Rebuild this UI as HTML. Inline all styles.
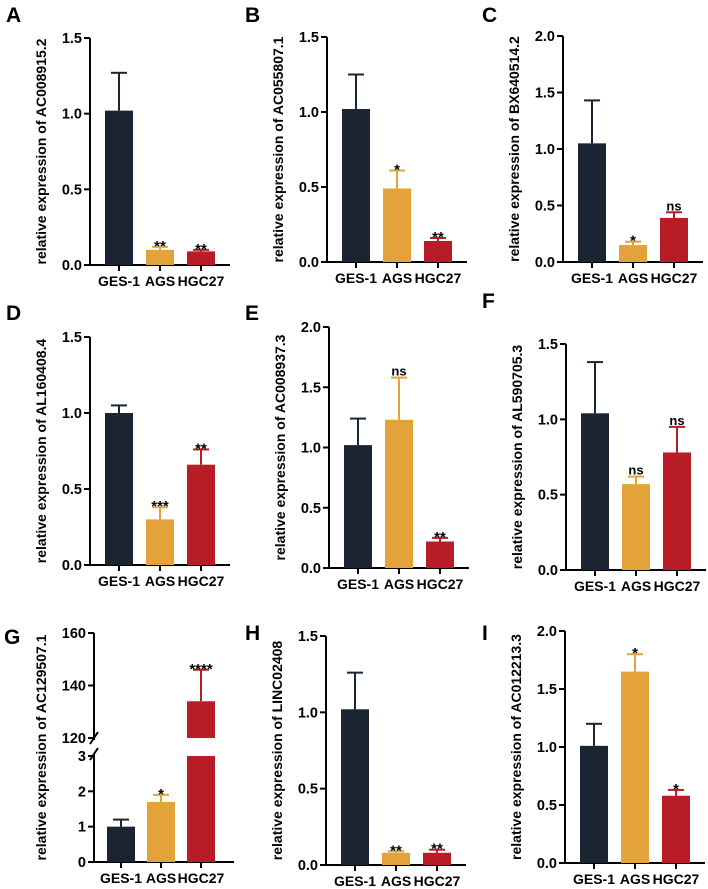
<!DOCTYPE html>
<html><head><meta charset="utf-8">
<style>
html,body{margin:0;padding:0;background:#fff;}
svg{display:block;font-family:"Liberation Sans",Arial,sans-serif;font-weight:bold;}
</style></head>
<body>
<svg id="fig" width="708" height="889" viewBox="0 0 708 889"></svg>
<script>
const categories = ["GES-1","AGS","HGC27"];
const colors = ["#1b2433","#e3a23a","#b81d27"];
const valuesA = [1.02,0.10,0.09]; const errorsA=[0.25,0.02,0.01]; const starsA=["","**","**"];
const valuesB = [1.02,0.49,0.14]; const errorsB=[0.23,0.12,0.02]; const starsB=["","*","**"];
const valuesC = [1.05,0.15,0.39]; const errorsC=[0.38,0.03,0.05]; const starsC=["","*","ns"];
const valuesD = [1.00,0.30,0.66]; const errorsD=[0.05,0.08,0.10]; const starsD=["","***","**"];
const valuesE = [1.02,1.23,0.22]; const errorsE=[0.22,0.35,0.03]; const starsE=["","ns","**"];
const valuesF = [1.04,0.57,0.78]; const errorsF=[0.34,0.05,0.17]; const starsF=["","ns","ns"];
const valuesG = [1.00,1.70,134]; const errorsG=[0.20,0.20,12]; const starsG=["","*","****"];
const valuesH = [1.02,0.08,0.08]; const errorsH=[0.24,0.01,0.02]; const starsH=["","**","**"];
const valuesI = [1.01,1.65,0.58]; const errorsI=[0.19,0.15,0.05]; const starsI=["","*","*"];
const ticks15 = [0,0.5,1.0,1.5];
const ticks20 = [0,0.5,1.0,1.5,2.0];
const ticksGLow = [0,1,2,3];
const ticksGHigh = [120,140,160];

const NS="http://www.w3.org/2000/svg";
const svg=document.getElementById('fig');
function el(tag,attrs,parent){const e=document.createElementNS(NS,tag);for(const k in attrs)e.setAttribute(k,attrs[k]);(parent||svg).appendChild(e);return e;}
function txt(s,attrs,parent){const e=el('text',attrs,parent);e.textContent=s;return e;}

function panel(p){
  const g=el('g',{});
  
  
  const lt=txt(p.letter,{x:p.lx,y:p.ly,'font-size':21,fill:'#000'},g);
  
  
  const ax=p.ax, x1=ax+140;
  const yS=v=>p.ybot-(v/p.max)*(p.ybot-p.ytop);
  el('line',{x1:ax,y1:p.ytop,x2:ax,y2:p.ybot+1,stroke:'#000','stroke-width':2},g);
  el('line',{x1:ax-1,y1:p.ybot,x2:x1,y2:p.ybot,stroke:'#000','stroke-width':2},g);
  p.ticks.forEach(t=>{
    const y=yS(t);
    el('line',{x1:ax-6,y1:y,x2:ax,y2:y,stroke:'#000','stroke-width':2},g);
    const tl=txt(t.toFixed(1),{x:ax-8,y:y+5,'font-size':14.5,'text-anchor':'end'},g);
    
    
  });
  const yl=txt(p.ylabel,{x:0,y:0,'font-size':14,'text-anchor':'middle',transform:`translate(${ax-44},${(p.ytop+p.ybot)/2}) rotate(-90)`},g);
  
  
  categories.forEach((c,i)=>{
    const cx=ax+29+i*41;
    const v=p.values[i], e=p.errors[i];
    const top=yS(v), et=yS(v+e);
    el('line',{x1:cx,y1:et,x2:cx,y2:top,stroke:colors[i],'stroke-width':2},g);
    el('line',{x1:cx-8,y1:et,x2:cx+8,y2:et,stroke:colors[i],'stroke-width':2},g);
    const b=el('rect',{x:cx-14,y:top,width:28,height:p.ybot-top,fill:colors[i]},g);
    
    
    if(p.stars[i]){const s=txt(p.stars[i],{x:cx,y:et-2+(p.stars[i]=='ns'?0:6),'font-size':p.stars[i]=='ns'?13:15,'text-anchor':'middle'},g);
      
      }
    el('line',{x1:cx,y1:p.ybot,x2:cx,y2:p.ybot+6,stroke:'#000','stroke-width':2},g);
    const xl=txt(c,{x:cx,y:p.ybot+21,'font-size':14,'text-anchor':'middle'},g);
    
    
  });
}
panel({letter:'A',lx:6,ly:22,ax:90,ytop:38,ybot:265,max:1.5,ticks:ticks15,values:valuesA,errors:errorsA,stars:starsA,ylabel:'relative expression of AC008915.2'});
panel({letter:'B',lx:245,ly:22,ax:327,ytop:37,ybot:262,max:1.5,ticks:ticks15,values:valuesB,errors:errorsB,stars:starsB,ylabel:'relative expression of AC055807.1'});
panel({letter:'C',lx:482,ly:22,ax:563,ytop:36,ybot:262,max:2.0,ticks:ticks20,values:valuesC,errors:errorsC,stars:starsC,ylabel:'relative expression of BX640514.2'});
panel({letter:'D',lx:6,ly:320,ax:90,ytop:337,ybot:565,max:1.5,ticks:ticks15,values:valuesD,errors:errorsD,stars:starsD,ylabel:'relative expression of AL160408.4'});
panel({letter:'E',lx:245,ly:320,ax:329,ytop:327,ybot:568,max:2.0,ticks:ticks20,values:valuesE,errors:errorsE,stars:starsE,ylabel:'relative expression of  AC008937.3'});
panel({letter:'F',lx:482,ly:308,ax:566,ytop:344,ybot:570,max:1.5,ticks:ticks15,values:valuesF,errors:errorsF,stars:starsF,ylabel:'relative expression of  AL590705.3'});
panel({letter:'H',lx:245,ly:640,ax:326,ytop:636,ybot:865,max:1.5,ticks:ticks15,values:valuesH,errors:errorsH,stars:starsH,ylabel:'relative expression of  LINC02408'});
panel({letter:'I',lx:482,ly:640,ax:565,ytop:631,ybot:863,max:2.0,ticks:ticks20,values:valuesI,errors:errorsI,stars:starsI,ylabel:'relative expression of  AC012213.3'});

(function(){
  const g=el('g',{});
  
  
  const lt=txt('G',{x:4,y:644,'font-size':21},g);
  
  
  const ax=94, ybot=862, lowTop=756, highBot=738, highTop=633;
  const yLow=v=>ybot-(v/3)*(ybot-lowTop);
  const yHigh=v=>highBot-((v-120)/40)*(highBot-highTop);
  const yS=v=>v<=3?yLow(v):(v>=120?yHigh(v):lowTop);
  el('line',{x1:ax,y1:highTop,x2:ax,y2:highBot+2,stroke:'#000','stroke-width':2},g);
  el('line',{x1:ax,y1:lowTop-2,x2:ax,y2:ybot+1,stroke:'#000','stroke-width':2},g);
  el('line',{x1:ax-4,y1:highBot+6,x2:ax+4,y2:highBot-6,stroke:'#000','stroke-width':2},g);
  el('line',{x1:ax-4,y1:lowTop+4,x2:ax+4,y2:lowTop-8,stroke:'#000','stroke-width':2},g);
  el('line',{x1:ax-1,y1:ybot,x2:ax+140,y2:ybot,stroke:'#000','stroke-width':2},g);
  ticksGLow.concat(ticksGHigh).forEach(t=>{
    const y=yS(t);
    el('line',{x1:ax-6,y1:y,x2:ax,y2:y,stroke:'#000','stroke-width':2},g);
    const tl=txt(String(t),{x:ax-8,y:y+5,'font-size':14.5,'text-anchor':'end'},g);
    
    
  });
  const yl=txt('relative expression of  AC129507.1',{x:0,y:0,'font-size':14,'text-anchor':'middle',transform:`translate(${ax-48},${(highTop+ybot)/2}) rotate(-90)`},g);
  
  
  categories.forEach((c,i)=>{
    const cx=ax+27+i*40;
    const v=valuesG[i], e=errorsG[i];
    const top=yS(v), et=yS(v+e);
    el('line',{x1:cx,y1:et,x2:cx,y2:top,stroke:colors[i],'stroke-width':2},g);
    el('line',{x1:cx-8,y1:et,x2:cx+8,y2:et,stroke:colors[i],'stroke-width':2},g);
    if(v>3){
      const b1=el('rect',{x:cx-14,y:lowTop,width:28,height:ybot-lowTop,fill:colors[i]},g);
      
      
      const b2=el('rect',{x:cx-14,y:top,width:28,height:highBot-top,fill:colors[i]},g);
      
      
    } else {
      const b=el('rect',{x:cx-14,y:top,width:28,height:ybot-top,fill:colors[i]},g);
      
      
    }
    if(starsG[i]){const s=txt(starsG[i],{x:cx,y:et+4,'font-size':15,'text-anchor':'middle'},g);
      
      }
    el('line',{x1:cx,y1:ybot,x2:cx,y2:ybot+6,stroke:'#000','stroke-width':2},g);
    const xl=txt(c,{x:cx,y:ybot+21,'font-size':14,'text-anchor':'middle'},g);
    
    
  });
})();
</script>
</body></html>
